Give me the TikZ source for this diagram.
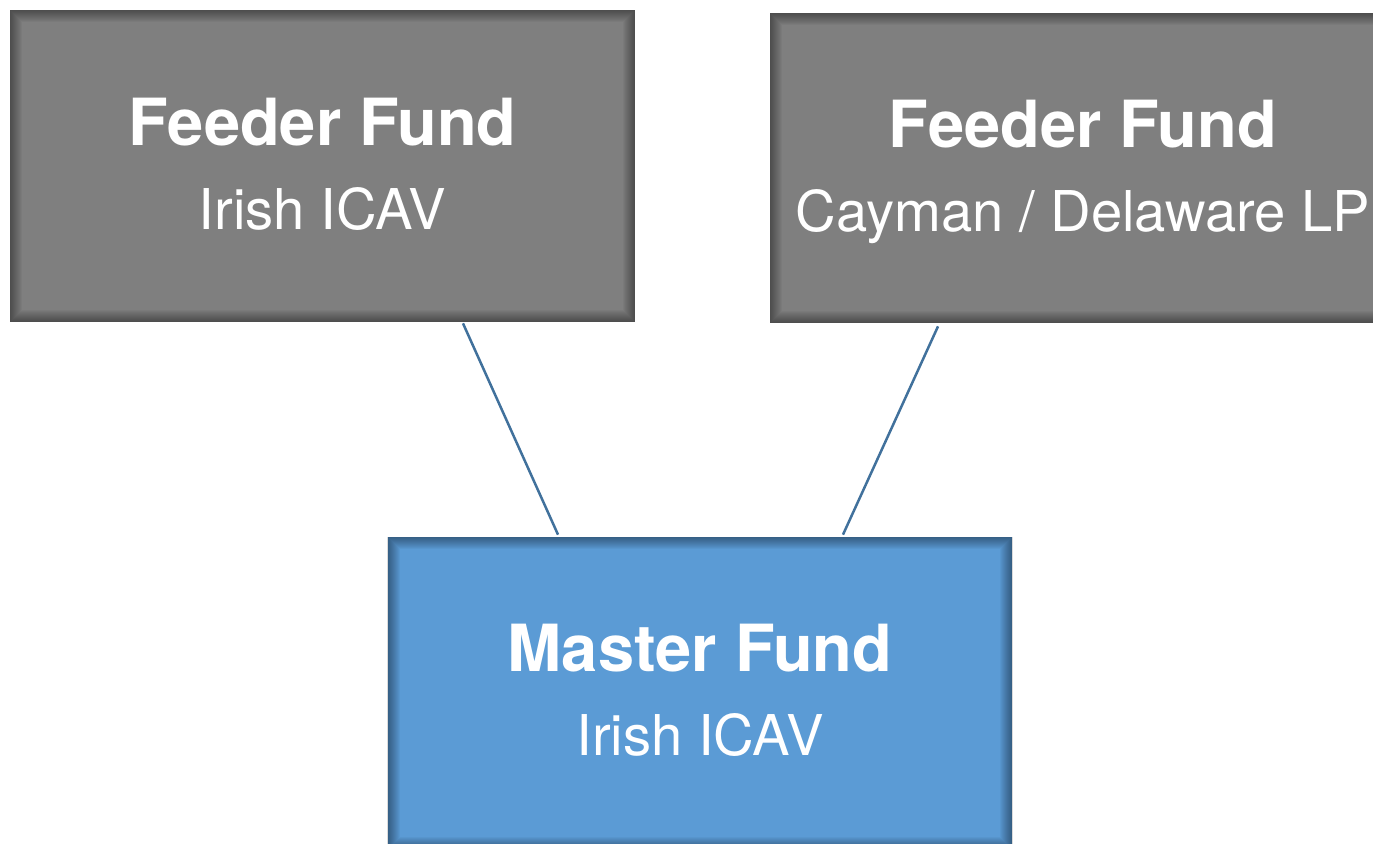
\documentclass[tikz,border=0pt]{standalone}
\usepackage{fontspec}
\setmainfont{TeX Gyre Heros}
\usetikzlibrary{positioning}
\definecolor{feedergray}{RGB}{127,127,127}
\definecolor{masterblue}{RGB}{91,155,213}
\definecolor{linkblue}{RGB}{65,113,156}
\tikzset{
  inner_shade/.style={
    path picture={
      \foreach \w in {0.04,0.08,...,0.52}
        \draw[black, opacity=0.035, line width=\w cm]
          (path picture bounding box.south west) rectangle
          (path picture bounding box.north east);
    }
  },
  fundbox/.style={rectangle, inner sep=0pt, minimum width=12.5cm, minimum height=6.24cm, inner_shade},
  feeder/.style={fundbox, fill=feedergray},
  master/.style={fundbox, fill=masterblue},
  fundname/.style={anchor=base, inner sep=0pt, text=white, font=\fontsize{37}{40}\selectfont\bfseries},
  fundtype/.style={anchor=base, inner sep=0pt, text=white, font=\fontsize{32}{36}\selectfont},
  link/.style={draw=linkblue, line width=0.05cm}
}

\begin{document}
\begin{tikzpicture}[x=0.02cm, y=-0.02cm]
\useasboundingbox (0,0) rectangle (1373,844);
% boxes
\node[feeder] (lf) at (322.5,166){};
\node[feeder, minimum width=12.52cm, minimum height=6.2cm] (rf) at (1083,168){};
\node[master] (ms) at (700,693){};
% texts
\node[fundname] (lfname) at ([yshift=0.42cm]lf.center){Feeder Fund};
\node[fundtype] (lftype) at ([yshift=-1.27cm]lf.center){Irish ICAV};
\node[fundname] (rfname) at ([yshift=0.42cm]rf.center){Feeder Fund};
\node[fundtype] (rftype) at ([yshift=-1.27cm]rf.center){Cayman / Delaware LP};
\node[fundname] (msname) at ([yshift=0.44cm]ms.center){Master Fund};
\node[fundtype] (mstype) at ([yshift=-1.26cm]ms.center){Irish ICAV};
% links
\draw[link] ([xshift=2.81cm, yshift=-0.02cm]lf.south) -- ([xshift=-2.84cm, yshift=0.04cm]ms.north);
\draw[link] ([xshift=-2.9cm, yshift=-0.06cm]rf.south) -- ([xshift=2.86cm, yshift=0.04cm]ms.north);
\end{tikzpicture}
\end{document}
